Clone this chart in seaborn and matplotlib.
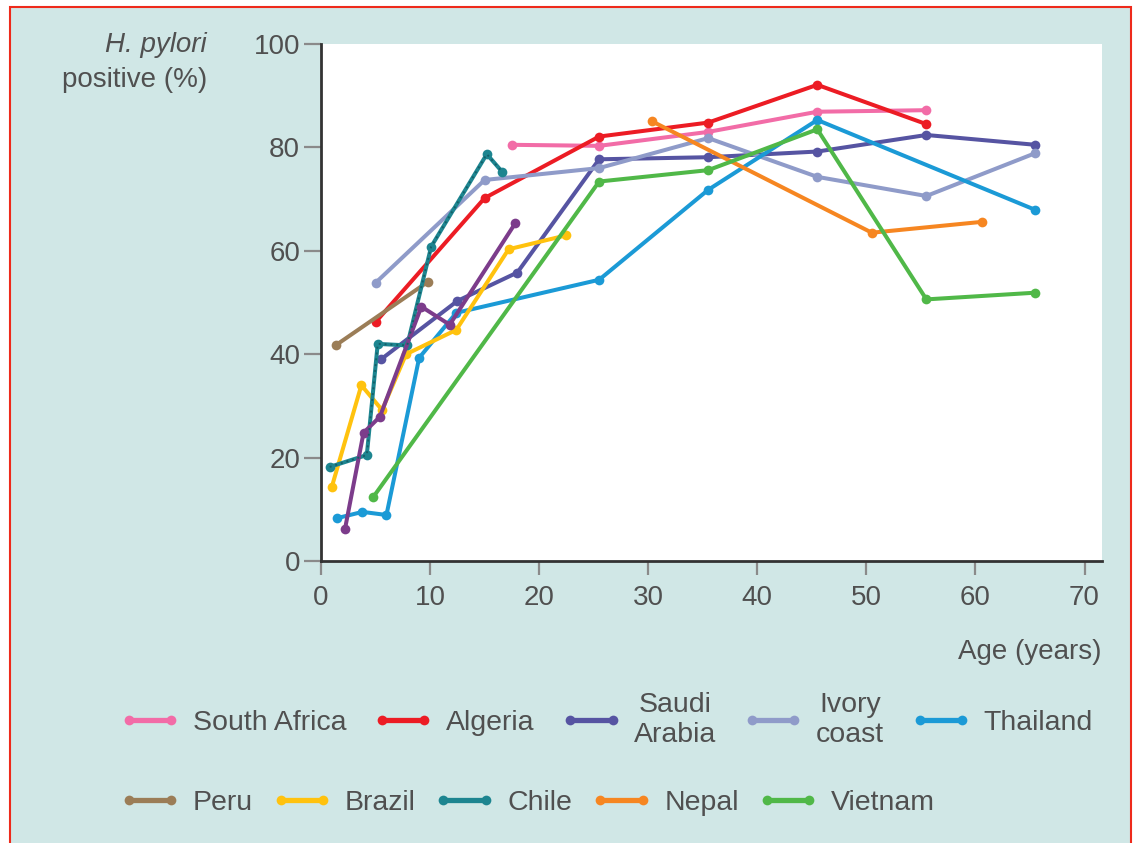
import numpy as np
import pandas as pd
import matplotlib
matplotlib.use('Agg')
import matplotlib.pyplot as plt
from matplotlib.lines import Line2D
from matplotlib.patches import Rectangle
import seaborn as sns

# ages (years) and % H. pylori positive
south_africa_x = [17.5, 25.5, 35.5, 45.5, 55.5]
south_africa_y = [80.5, 80.3, 83.0, 86.9, 87.2]
algeria_x = [5, 15, 25.5, 35.5, 45.5, 55.5]
algeria_y = [46.2, 70.2, 82.1, 84.8, 92.1, 84.5]
saudi_x = [5.5, 12.5, 18, 25.5, 35.5, 45.5, 55.5, 65.5]
saudi_y = [39, 50.3, 55.8, 77.7, 78.1, 79.2, 82.4, 80.5]
ivory_x = [5, 15, 25.5, 35.5, 45.5, 55.5, 65.5]
ivory_y = [53.8, 73.7, 76, 81.8, 74.3, 70.6, 78.9]
thailand_x = [1.5, 3.8, 6, 9, 12.4, 25.5, 35.5, 45.5, 65.5]
thailand_y = [8.3, 9.5, 8.9, 39.3, 48, 54.4, 71.8, 85.3, 67.9]
peru_x = [1.4, 9.8]
peru_y = [41.8, 54]
brazil_x = [1, 3.7, 5.6, 7.8, 12.4, 17.2, 22.5]
brazil_y = [14.4, 34, 29.2, 40, 44.7, 60.3, 63]
chile_x = [0.8, 4.2, 5.2, 7.9, 10.1, 15.2, 16.6]
chile_y = [18.2, 20.5, 42, 41.7, 60.8, 78.7, 75.3]
nepal_x = [30.3, 50.5, 60.6]
nepal_y = [85.1, 63.5, 65.6]
vietnam_x = [4.8, 25.5, 35.5, 45.5, 55.5, 65.5]
vietnam_y = [12.4, 73.4, 75.6, 83.5, 50.6, 51.9]
# unlabelled purple series (not in the key)
other_x = [2.2, 3.9, 5.4, 9.2, 11.8, 17.8]
other_y = [6.2, 24.8, 27.9, 49.2, 45.7, 65.3]

series = {
    'South Africa': (south_africa_x, south_africa_y),
    'Algeria': (algeria_x, algeria_y),
    'Saudi\nArabia': (saudi_x, saudi_y),
    'Ivory\ncoast': (ivory_x, ivory_y),
    'Thailand': (thailand_x, thailand_y),
    'Peru': (peru_x, peru_y),
    'Brazil': (brazil_x, brazil_y),
    'Chile': (chile_x, chile_y),
    'Nepal': (nepal_x, nepal_y),
    'Vietnam': (vietnam_x, vietnam_y),
    'other': (other_x, other_y),
}
colors = {
    'South Africa': '#f26ca7',
    'Algeria': '#ec1c24',
    'Saudi\nArabia': '#5654a2',
    'Ivory\ncoast': '#8f9bc9',
    'Thailand': '#1b9ad6',
    'Peru': '#9b7d57',
    'Brazil': '#ffc20e',
    'Chile': '#1d8590',
    'Nepal': '#f68621',
    'Vietnam': '#50b848',
    'other': '#7c3c8b',
}

rows = []
for name, (xs, ys) in series.items():
    for x, y in zip(xs, ys):
        rows.append({'country': name, 'age': x, 'pct': y})
df = pd.DataFrame(rows)

sns.set_style('white')
plt.rcParams['font.family'] = ['Liberation Sans', 'DejaVu Sans']
bg = '#d0e7e6'
txt = '#505050'
fs = 20
fig = plt.figure(figsize=(11.34, 8.43), dpi=100, facecolor='white')
fig.patches.append(Rectangle((10/1134, -0.01), 1 - 13/1134, 1 - 7/843 + 0.01,
                             transform=fig.transFigure, facecolor=bg,
                             edgecolor='#ee2a1b', linewidth=1.5, zorder=-10))

ax = fig.add_axes([321/1134, 1 - 561/843, (1102 - 321)/1134, (561 - 44)/843])
ax.set_facecolor('white')

sns.lineplot(data=df, x='age', y='pct', hue='country', palette=colors,
             units='country', estimator=None, sort=False, marker='o',
             markersize=7, markeredgewidth=0, linewidth=2.9, legend=False, ax=ax)

# Chile line has a dotted look
ch = df[df['country'] == 'Chile']
ax.plot(ch['age'], ch['pct'], color='#145f68', lw=1.4, ls=(0, (1, 2)), zorder=3)

ax.set_xlim(0, 71.6)
ax.set_ylim(0, 100)
ax.set_xticks(range(0, 71, 10))
ax.set_yticks(range(0, 101, 20))
ax.set_xlabel('')
ax.set_ylabel('')
for s in ['top', 'right']:
    ax.spines[s].set_visible(False)
for s in ['left', 'bottom']:
    ax.spines[s].set_color('#333333')
    ax.spines[s].set_linewidth(2)
ax.tick_params(axis='y', length=12, width=1.6, color='#8a8a8a', labelsize=fs,
               labelcolor=txt, pad=3, direction='out', left=True)
ax.tick_params(axis='x', length=10, width=1.6, color='#8a8a8a', labelsize=fs,
               labelcolor=txt, pad=7, direction='out', bottom=True)

fig.text(207/1134, 1 - 45/843, 'H. pylori', ha='right', va='center',
         fontsize=fs, style='italic', color=txt)
fig.text(207/1134, 1 - 80/843, 'positive (%)', ha='right', va='center',
         fontsize=fs, color=txt)
fig.text(1101/1134, 1 - 652/843, 'Age (years)', ha='right', va='center',
         fontsize=fs, color=txt)


def handles_for(names):
    return [Line2D([0], [0], color=colors[n], lw=3.8, marker='o', markersize=7,
                   markeredgewidth=0) for n in names]


row1 = ['South Africa', 'Algeria', 'Saudi\nArabia', 'Ivory\ncoast', 'Thailand']
row2 = ['Peru', 'Brazil', 'Chile', 'Nepal', 'Vietnam']
for names, ypix, cs in [(row1, 720, 0.95), (row2, 803, 0.68)]:
    leg = fig.legend(handles_for(names), names, loc='center left',
                     bbox_to_anchor=(120/1134, 1 - ypix/843), ncol=5,
                     frameon=False, fontsize=fs + 0.5, numpoints=2,
                     handlelength=2.1, handletextpad=0.45, columnspacing=cs,
                     borderpad=0, borderaxespad=0)
    for t in leg.get_texts():
        t.set_color(txt)
        t.set_multialignment('center')

fig.savefig('out.png', dpi=100, facecolor=fig.get_facecolor())
